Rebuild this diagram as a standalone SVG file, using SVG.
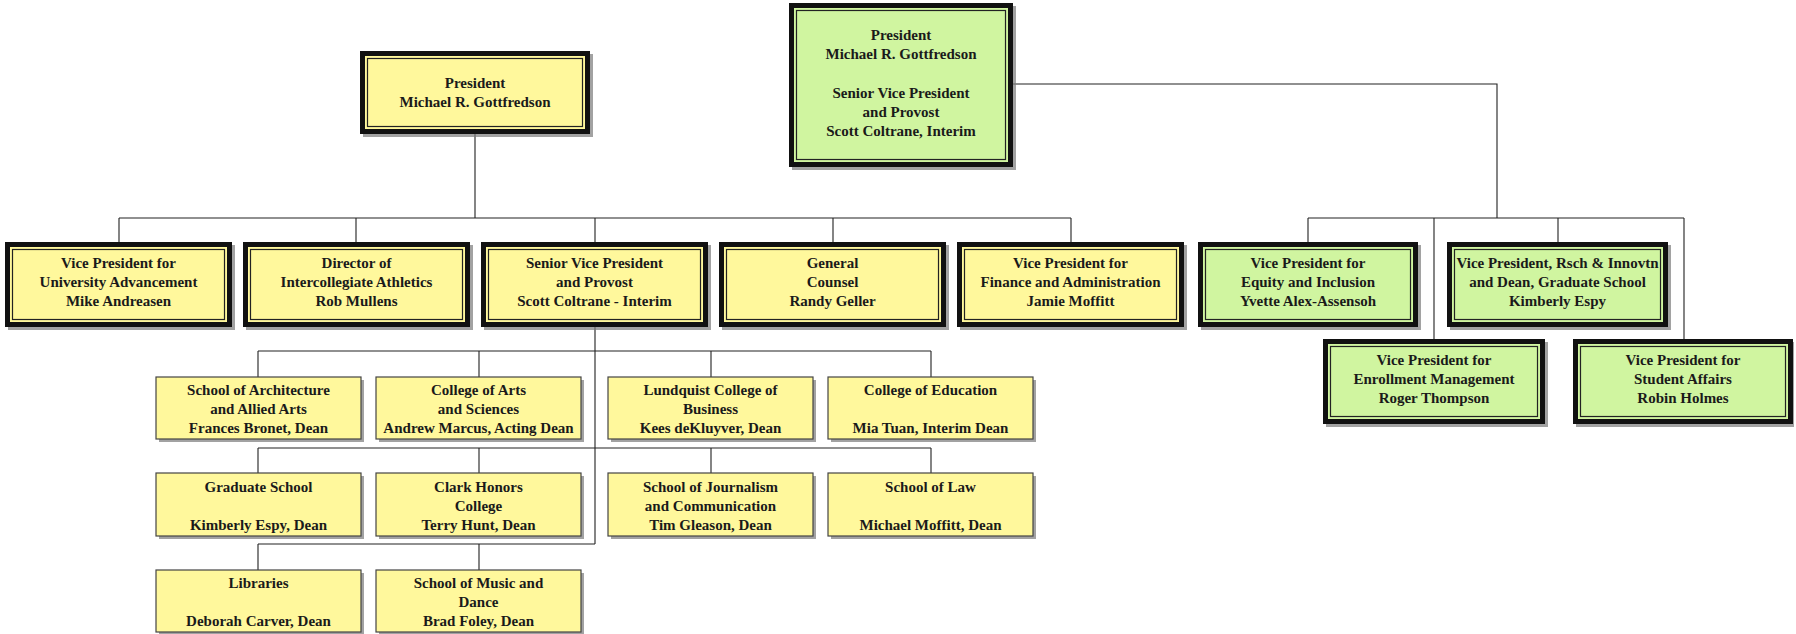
<svg xmlns="http://www.w3.org/2000/svg" width="1796" height="634" viewBox="0 0 1796 634">
<style>
.bg{fill:#ffffff}
.sh{fill:#7a7a7a;opacity:0.7}
.ob{fill:#111111}
.gy{fill:#fff89c}
.gg{fill:#d0f5a0}
.ly{fill:#fff89c;stroke:#222;stroke-width:1.2}
.lg{fill:#d0f5a0;stroke:#222;stroke-width:1.2}
.db{fill:#fff89c;stroke:#444;stroke-width:1.2}
.t{font-family:"Liberation Serif",serif;font-weight:bold;font-size:15px;fill:#1a1a1a;text-anchor:middle}
.c{fill:none;stroke:#222;stroke-width:1.1}
</style>
<rect class="bg" x="0" y="0" width="1796" height="634"/>
<g id="connectors">
<path class="c" d="M475 134V218M119 218H1071M119 218V242M356 218V242M595 218V242M833 218V242M1071 218V242"/>
<path class="c" d="M595 327V544M258 351H931M258 351V377M479 351V377M711 351V377M931 351V377"/>
<path class="c" d="M258 448H931M258 448V473M479 448V473M711 448V473M931 448V473"/>
<path class="c" d="M258 544H595M258 544V570M479 544V570"/>
<path class="c" d="M1013 84H1497V218M1308 218H1684M1308 218V242M1434 218V339M1558 218V242M1684 218V339"/>
</g>
<g id="president-left">
<rect class="sh" x="363" y="54" width="230" height="83"/>
<rect class="ob" x="360" y="51" width="230" height="83"/>
<rect class="gy" x="365" y="56" width="220" height="73"/>
<rect class="ly" x="367.5" y="58.5" width="215" height="68"/>
<text class="t" x="475" y="88">President</text>
<text class="t" x="475" y="107">Michael R. Gottfredson</text>
</g>
<g id="president-green">
<rect class="sh" x="792" y="6" width="224" height="164"/>
<rect class="ob" x="789" y="3" width="224" height="164"/>
<rect class="gg" x="794" y="8" width="214" height="154"/>
<rect class="lg" x="796.5" y="10.5" width="209" height="149"/>
<text class="t" x="901" y="40">President</text>
<text class="t" x="901" y="59">Michael R. Gottfredson</text>
<text class="t" x="901" y="98">Senior Vice President</text>
<text class="t" x="901" y="117">and Provost</text>
<text class="t" x="901" y="136">Scott Coltrane, Interim</text>
</g>
<g id="vp-advancement">
<rect class="sh" x="8" y="245" width="227" height="85"/>
<rect class="ob" x="5" y="242" width="227" height="85"/>
<rect class="gy" x="10" y="247" width="217" height="75"/>
<rect class="ly" x="12.5" y="249.5" width="212" height="70"/>
<text class="t" x="118.5" y="268">Vice President for</text>
<text class="t" x="118.5" y="287">University Advancement</text>
<text class="t" x="118.5" y="306">Mike Andreasen</text>
</g>
<g id="athletics">
<rect class="sh" x="246" y="245" width="227" height="85"/>
<rect class="ob" x="243" y="242" width="227" height="85"/>
<rect class="gy" x="248" y="247" width="217" height="75"/>
<rect class="ly" x="250.5" y="249.5" width="212" height="70"/>
<text class="t" x="356.5" y="268">Director of</text>
<text class="t" x="356.5" y="287">Intercollegiate Athletics</text>
<text class="t" x="356.5" y="306">Rob Mullens</text>
</g>
<g id="provost">
<rect class="sh" x="484" y="245" width="227" height="85"/>
<rect class="ob" x="481" y="242" width="227" height="85"/>
<rect class="gy" x="486" y="247" width="217" height="75"/>
<rect class="ly" x="488.5" y="249.5" width="212" height="70"/>
<text class="t" x="594.5" y="268">Senior Vice President</text>
<text class="t" x="594.5" y="287">and Provost</text>
<text class="t" x="594.5" y="306">Scott Coltrane - Interim</text>
</g>
<g id="counsel">
<rect class="sh" x="722" y="245" width="227" height="85"/>
<rect class="ob" x="719" y="242" width="227" height="85"/>
<rect class="gy" x="724" y="247" width="217" height="75"/>
<rect class="ly" x="726.5" y="249.5" width="212" height="70"/>
<text class="t" x="832.5" y="268">General</text>
<text class="t" x="832.5" y="287">Counsel</text>
<text class="t" x="832.5" y="306">Randy Geller</text>
</g>
<g id="finance">
<rect class="sh" x="960" y="245" width="227" height="85"/>
<rect class="ob" x="957" y="242" width="227" height="85"/>
<rect class="gy" x="962" y="247" width="217" height="75"/>
<rect class="ly" x="964.5" y="249.5" width="212" height="70"/>
<text class="t" x="1070.5" y="268">Vice President for</text>
<text class="t" x="1070.5" y="287">Finance and Administration</text>
<text class="t" x="1070.5" y="306">Jamie Moffitt</text>
</g>
<g id="equity">
<rect class="sh" x="1201" y="245" width="220" height="85"/>
<rect class="ob" x="1198" y="242" width="220" height="85"/>
<rect class="gg" x="1203" y="247" width="210" height="75"/>
<rect class="lg" x="1205.5" y="249.5" width="205" height="70"/>
<text class="t" x="1308" y="268">Vice President for</text>
<text class="t" x="1308" y="287">Equity and Inclusion</text>
<text class="t" x="1308" y="306">Yvette Alex-Assensoh</text>
</g>
<g id="research">
<rect class="sh" x="1450" y="245" width="221" height="85"/>
<rect class="ob" x="1447" y="242" width="221" height="85"/>
<rect class="gg" x="1452" y="247" width="211" height="75"/>
<rect class="lg" x="1454.5" y="249.5" width="206" height="70"/>
<text class="t" x="1557.5" y="268">Vice President, Rsch &amp; Innovtn</text>
<text class="t" x="1557.5" y="287">and Dean, Graduate School</text>
<text class="t" x="1557.5" y="306">Kimberly Espy</text>
</g>
<g id="enrollment">
<rect class="sh" x="1326" y="342" width="222" height="85"/>
<rect class="ob" x="1323" y="339" width="222" height="85"/>
<rect class="gg" x="1328" y="344" width="212" height="75"/>
<rect class="lg" x="1330.5" y="346.5" width="207" height="70"/>
<text class="t" x="1434" y="365">Vice President for</text>
<text class="t" x="1434" y="384">Enrollment Management</text>
<text class="t" x="1434" y="403">Roger Thompson</text>
</g>
<g id="student-affairs">
<rect class="sh" x="1576" y="342" width="218" height="85"/>
<rect class="ob" x="1573" y="339" width="220" height="85"/>
<rect class="gg" x="1578" y="344" width="210" height="75"/>
<rect class="lg" x="1580.5" y="346.5" width="205" height="70"/>
<text class="t" x="1683" y="365">Vice President for</text>
<text class="t" x="1683" y="384">Student Affairs</text>
<text class="t" x="1683" y="403">Robin Holmes</text>
</g>
<g id="architecture">
<rect class="sh" x="159" y="380" width="205" height="62"/>
<rect class="db" x="156" y="377" width="205" height="62"/>
<text class="t" x="258.5" y="395">School of Architecture</text>
<text class="t" x="258.5" y="414">and Allied Arts</text>
<text class="t" x="258.5" y="433">Frances Bronet, Dean</text>
</g>
<g id="arts-sciences">
<rect class="sh" x="379" y="380" width="205" height="62"/>
<rect class="db" x="376" y="377" width="205" height="62"/>
<text class="t" x="478.5" y="395">College of Arts</text>
<text class="t" x="478.5" y="414">and Sciences</text>
<text class="t" x="478.5" y="433">Andrew Marcus, Acting Dean</text>
</g>
<g id="business">
<rect class="sh" x="611" y="380" width="205" height="62"/>
<rect class="db" x="608" y="377" width="205" height="62"/>
<text class="t" x="710.5" y="395">Lundquist College of</text>
<text class="t" x="710.5" y="414">Business</text>
<text class="t" x="710.5" y="433">Kees deKluyver, Dean</text>
</g>
<g id="education">
<rect class="sh" x="831" y="380" width="205" height="62"/>
<rect class="db" x="828" y="377" width="205" height="62"/>
<text class="t" x="930.5" y="395">College of Education</text>
<text class="t" x="930.5" y="433">Mia Tuan, Interim Dean</text>
</g>
<g id="graduate">
<rect class="sh" x="159" y="476" width="205" height="63"/>
<rect class="db" x="156" y="473" width="205" height="63"/>
<text class="t" x="258.5" y="492">Graduate School</text>
<text class="t" x="258.5" y="530">Kimberly Espy, Dean</text>
</g>
<g id="honors">
<rect class="sh" x="379" y="476" width="205" height="63"/>
<rect class="db" x="376" y="473" width="205" height="63"/>
<text class="t" x="478.5" y="492">Clark Honors</text>
<text class="t" x="478.5" y="511">College</text>
<text class="t" x="478.5" y="530">Terry Hunt, Dean</text>
</g>
<g id="journalism">
<rect class="sh" x="611" y="476" width="205" height="63"/>
<rect class="db" x="608" y="473" width="205" height="63"/>
<text class="t" x="710.5" y="492">School of Journalism</text>
<text class="t" x="710.5" y="511">and Communication</text>
<text class="t" x="710.5" y="530">Tim Gleason, Dean</text>
</g>
<g id="law">
<rect class="sh" x="831" y="476" width="205" height="63"/>
<rect class="db" x="828" y="473" width="205" height="63"/>
<text class="t" x="930.5" y="492">School of Law</text>
<text class="t" x="930.5" y="530">Michael Moffitt, Dean</text>
</g>
<g id="libraries">
<rect class="sh" x="159" y="573" width="205" height="62"/>
<rect class="db" x="156" y="570" width="205" height="62"/>
<text class="t" x="258.5" y="588">Libraries</text>
<text class="t" x="258.5" y="626">Deborah Carver, Dean</text>
</g>
<g id="music">
<rect class="sh" x="379" y="573" width="205" height="62"/>
<rect class="db" x="376" y="570" width="205" height="62"/>
<text class="t" x="478.5" y="588">School of Music and</text>
<text class="t" x="478.5" y="607">Dance</text>
<text class="t" x="478.5" y="626">Brad Foley, Dean</text>
</g>
</svg>
